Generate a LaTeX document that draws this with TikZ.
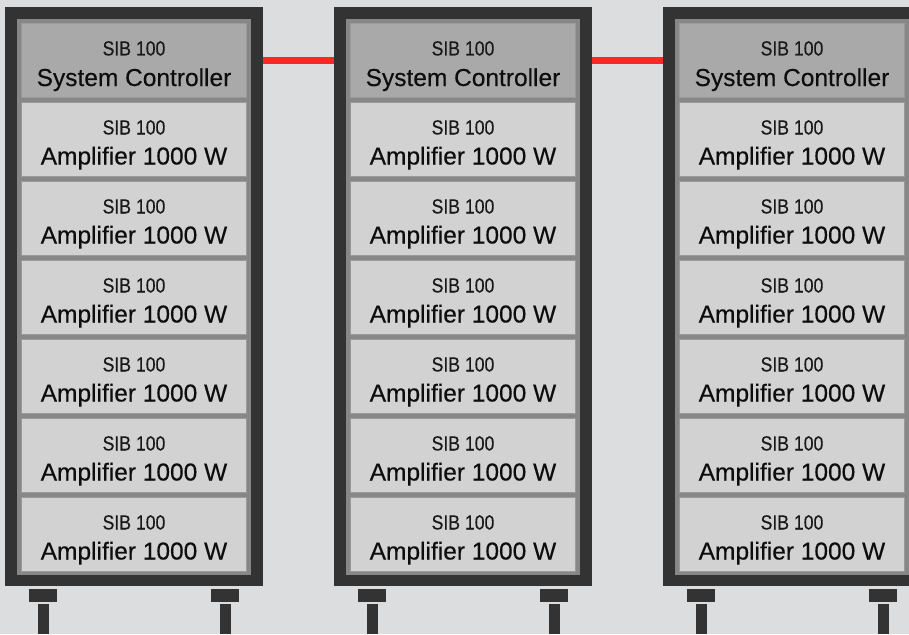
\documentclass[tikz,border=0pt]{standalone}
\usepackage{fontspec}
\setmainfont{Liberation Sans}
\newfontfamily\sibfont[FakeStretch=0.86,FakeBold=0.3]{Liberation Sans}
\newfontfamily\modfont[FakeBold=0.35]{Liberation Sans}
\usetikzlibrary{backgrounds,calc}
\definecolor{bg}{HTML}{DCDDDF}
\definecolor{framecol}{HTML}{333333}
\definecolor{innercol}{HTML}{878787}
\definecolor{ctrlfill}{HTML}{A9A9A9}
\definecolor{ampfill}{HTML}{D2D2D2}
\definecolor{modborder}{HTML}{9A9A9A}
\definecolor{cable}{HTML}{FF2626}
\tikzset{
  rackframe/.style={fill=framecol, inner sep=0pt, outer sep=0pt, minimum width=258pt, minimum height=579pt, anchor=north west},
  rackinner/.style={fill=innercol, inner sep=0pt, outer sep=0pt, minimum width=234pt, minimum height=556pt, anchor=north west},
  modbox/.style={draw=modborder, line width=1pt, inner sep=0pt, outer sep=0pt, minimum width=225pt, minimum height=74pt, anchor=north west},
  ctrlbox/.style={modbox, fill=ctrlfill},
  ampbox/.style={modbox, fill=ampfill},
  smalltxt/.style={anchor=base, inner sep=0pt, text=black!90, font=\sibfont\fontsize{20.5}{22}\selectfont},
  bigtxt/.style={anchor=base, inner sep=0pt, text=black!95, font=\modfont\fontsize{24.5}{28}\selectfont},
  foot/.style={fill=framecol},
  cableline/.style={draw=cable, line width=6pt}
}
\begin{document}
\begin{tikzpicture}[x=1pt,y=-1pt]
\useasboundingbox (0,0) rectangle (909,634);
\foreach \r in {1,2,3}{
  \pgfmathsetmacro{\X}{5+329*(\r-1)}
  \node[rackframe] (rack-\r) at (\X,7) {};
  \node[rackinner] (inner-\r) at (\X+12,19) {};
  \node[ctrlbox] (m-\r-0) at (\X+16.5,23.5) {};
  \node[smalltxt] (s-\r-0) at ($(m-\r-0.north)+(0,32)$) {SIB 100};
  \node[bigtxt] (b-\r-0) at ($(m-\r-0.north)+(0,62.5)$) {System Controller};
  \foreach \k in {1,...,6}{
    \node[ampbox] (m-\r-\k) at (\X+16.5,23.5+79*\k) {};
    \node[smalltxt] (s-\r-\k) at ($(m-\r-\k.north)+(0,32)$) {SIB 100};
    \node[bigtxt] (b-\r-\k) at ($(m-\r-\k.north)+(0,62)$) {Amplifier 1000 W};
  }
  \fill[foot] (\X+24,589) rectangle (\X+52,602);
  \fill[foot] (\X+33,604) rectangle (\X+44,634);
  \fill[foot] (\X+206,589) rectangle (\X+234,602);
  \fill[foot] (\X+215,604) rectangle (\X+226,634);
}
\begin{pgfonlayer}{background}
  \fill[bg] (0,0) rectangle (909,634);
  \draw[cableline] (m-1-0.east) -- (m-2-0.west);
  \draw[cableline] (m-2-0.east) -- (m-3-0.west);
\end{pgfonlayer}
\end{tikzpicture}
\end{document}
